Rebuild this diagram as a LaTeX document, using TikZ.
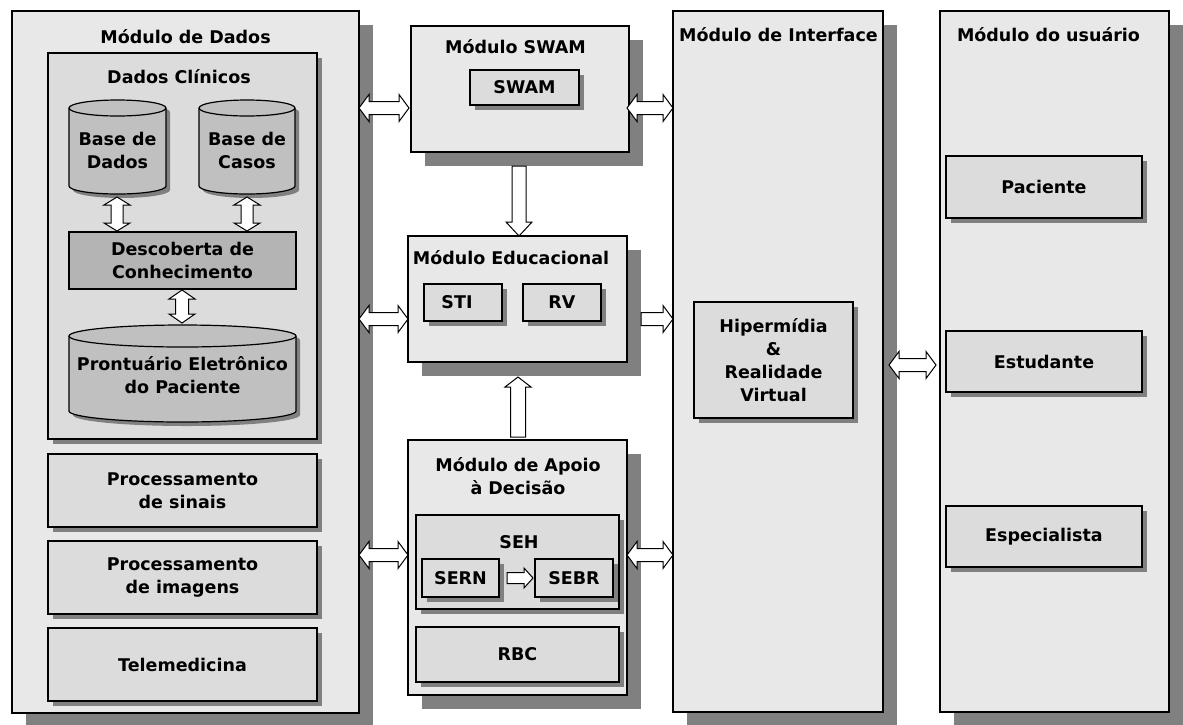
\documentclass[tikz,border=0pt]{standalone}
\usepackage{fontspec}
\setmainfont{DejaVu Sans}
\usetikzlibrary{calc,shadows}
\definecolor{outerfill}{HTML}{E8E8E8}
\definecolor{innerfill}{HTML}{DCDCDC}
\definecolor{cylfill}{HTML}{C0C0C0}
\definecolor{darkfill}{HTML}{B4B4B4}
\definecolor{shadowgray}{HTML}{808080}

\newcommand\drawcyl[3]{%
 \fill[shadowgray] ([xshift=4pt,yshift=-4pt-#3]#1.north west) -- ([xshift=4pt,yshift=-4pt+#3]#1.south west)
   arc[start angle=180,end angle=360,x radius=#2,y radius=#3]
   -- ([xshift=4pt,yshift=-4pt-#3]#1.north east)
   arc[start angle=0,end angle=180,x radius=#2,y radius=#3] -- cycle;
 \draw[cylline] ([yshift=-#3]#1.north west) -- ([yshift=#3]#1.south west)
   arc[start angle=180,end angle=360,x radius=#2,y radius=#3]
   -- ([yshift=-#3]#1.north east)
   arc[start angle=0,end angle=180,x radius=#2,y radius=#3] -- cycle;
 \draw[line width=1.2pt] ([yshift=-#3]#1.north west) arc[start angle=180,end angle=360,x radius=#2,y radius=#3];
}

\tikzset{
  every node/.style={font=\fontsize{17.5}{23}\selectfont\bfseries, text=black},
  outerbox/.style={draw=black, line width=1.2pt, fill=outerfill, inner sep=0pt, outer sep=0pt,
     drop shadow={shadow xshift=14pt, shadow yshift=-14pt, fill=shadowgray, opacity=1}},
  innerbox/.style={draw=black, line width=1.2pt, fill=innerfill, inner sep=0pt, outer sep=0pt, align=center,
     drop shadow={shadow xshift=5pt, shadow yshift=-5pt, fill=shadowgray, opacity=1}},
  darkbox/.style={draw=black, line width=1.2pt, fill=darkfill, inner sep=0pt, outer sep=0pt, align=center},
  cylnode/.style={inner sep=0pt, outer sep=0pt},
  cylline/.style={draw=black, line width=1.2pt, fill=cylfill},
  cyltext/.style={inner sep=0pt, align=center},
  title/.style={anchor=base, inner sep=0pt},
  adim/.code n args={3}{\def\aS{#1}\def\aH{#2}\def\aL{#3}},
  adim={6.5pt}{13.5pt}{10pt},
  blockarrow/.style={draw=black, fill=white, line width=1pt, line join=miter},
  sarrow/.style={blockarrow, to path={let \p1=(\tikztostart), \p2=(\tikztotarget),
     \n1={atan2(\y2-\y1,\x2-\x1)} in
     ($(\p1)+(\n1+90:\aS)$) -- ($(\p2)+(\n1+180:\aL)+(\n1+90:\aS)$)
     -- ($(\p2)+(\n1+180:\aL)+(\n1+90:\aH)$) -- (\p2)
     -- ($(\p2)+(\n1+180:\aL)+(\n1-90:\aH)$) -- ($(\p2)+(\n1+180:\aL)+(\n1-90:\aS)$)
     -- ($(\p1)+(\n1-90:\aS)$) -- cycle}},
  darrow/.style={blockarrow, to path={let \p1=(\tikztostart), \p2=(\tikztotarget),
     \n1={atan2(\y2-\y1,\x2-\x1)} in
     (\p1) -- ($(\p1)+(\n1:\aL)+(\n1+90:\aH)$) -- ($(\p1)+(\n1:\aL)+(\n1+90:\aS)$)
     -- ($(\p2)+(\n1+180:\aL)+(\n1+90:\aS)$) -- ($(\p2)+(\n1+180:\aL)+(\n1+90:\aH)$)
     -- (\p2) -- ($(\p2)+(\n1+180:\aL)+(\n1-90:\aH)$) -- ($(\p2)+(\n1+180:\aL)+(\n1-90:\aS)$)
     -- ($(\p1)+(\n1:\aL)+(\n1-90:\aS)$) -- ($(\p1)+(\n1:\aL)+(\n1-90:\aH)$) -- cycle}},
}

\begin{document}
\begin{tikzpicture}[x=1pt,y=-1pt]
\fill[white] (0,0) rectangle (1183,724);
\useasboundingbox (0,0) rectangle (1183,724);

% ---------- outer modules
\node[outerbox, minimum width=347pt, minimum height=702pt] (dados) at (185.5,362) {};
\node[outerbox, minimum width=218pt, minimum height=126pt] (swamm) at (520,89) {};
\node[outerbox, minimum width=219pt, minimum height=126pt] (educ) at (517.5,299) {};
\node[outerbox, minimum width=219pt, minimum height=255pt] (apoio) at (517.5,567.5) {};
\node[outerbox, minimum width=210pt, minimum height=701pt] (interf) at (778,361.5) {};
\node[outerbox, minimum width=229pt, minimum height=701pt] (usr) at (1054.5,361.5) {};

% ---------- titles
\node[title] (tdados) at (185.5,43) {Módulo de Dados};
\node[title] (tswam) at (515.5,53) {Módulo SWAM};
\node[title] (teduc) at (511,264) {Módulo Educacional};
\node[inner sep=0pt, align=center] (tapoio) at (518,476) {Módulo de Apoio\\à Decisão};
\node[title] (tinterf) at (778.5,41) {Módulo de Interface};
\node[title] (tusr) at (1048.5,41) {Módulo do usuário};

% ---------- Módulo de Dados content
\node[innerbox, minimum width=269pt, minimum height=386pt] (clin) at (182.5,246) {};
\node[title] (tclin) at (179,83) {Dados Clínicos};

\node[cylnode, minimum width=97pt, minimum height=94pt] (bd) at (117.5,147) {};
\node[cylnode, minimum width=96pt, minimum height=94pt] (bc) at (247,147) {};
\node[cylnode, minimum width=227pt, minimum height=97pt] (pep) at (182.5,373.5) {};
\drawcyl{bd}{48.5pt}{8pt}
\drawcyl{bc}{48pt}{8pt}
\drawcyl{pep}{113.5pt}{11pt}
\node[cyltext] (bdtext) at (117.5,150) {Base de\\Dados};
\node[cyltext] (bctext) at (247,150) {Base de\\Casos};
\node[cyltext] (peptext) at (182.5,375) {Prontuário Eletrônico\\do Paciente};

\node[darkbox, minimum width=227pt, minimum height=57pt] (desc) at (182.5,260.5) {Descoberta de\\Conhecimento};

\node[innerbox, minimum width=269pt, minimum height=73pt] (psin) at (182.5,490.5) {Processamento\\de sinais};
\node[innerbox, minimum width=269pt, minimum height=73pt] (pimg) at (182.5,577.5) {Processamento\\de imagens};
\node[innerbox, minimum width=269pt, minimum height=73pt] (tele) at (182.5,664.5) {Telemedicina};

% ---------- middle column content
\node[innerbox, minimum width=109pt, minimum height=35pt] (swam) at (524.5,87.5) {SWAM};
\node[innerbox, minimum width=78pt, minimum height=37pt] (sti) at (463,302.5) {STI\hspace*{12pt}};
\node[innerbox, minimum width=78pt, minimum height=37pt] (rv) at (562,302.5) {RV};

\node[innerbox, minimum width=203pt, minimum height=94pt] (seh) at (517.5,562) {};
\node[title] (tseh) at (519,548) {SEH};
\node[innerbox, minimum width=77pt, minimum height=38pt] (sern) at (460.5,578) {SERN};
\node[innerbox, minimum width=78pt, minimum height=38pt] (sebr) at (574,578) {SEBR};
\node[innerbox, minimum width=203pt, minimum height=55pt] (rbc) at (517.5,654.5) {RBC};

% ---------- interface & user
\node[innerbox, minimum width=159pt, minimum height=116pt] (hiper) at (773.5,360) {Hipermídia\\\&\\Realidade\\Virtual};
\node[innerbox, minimum width=196pt, minimum height=62pt] (pac) at (1044,187) {Paciente};
\node[innerbox, minimum width=196pt, minimum height=61pt] (est) at (1044,361.5) {Estudante};
\node[innerbox, minimum width=196pt, minimum height=61pt] (esp) at (1044,536.5) {Especialista};

% ---------- arrow rows / columns
\coordinate (r1) at (0,108);
\coordinate (r2) at (0,319);
\coordinate (r3) at (0,555);
\coordinate (r4) at (0,365);
\coordinate (c1) at (519,0);
\coordinate (c2) at (518,0);
\coordinate (c3) at (117,0);
\coordinate (c4) at (247,0);
\coordinate (c5) at (182,0);

% horizontal connectors
\draw[darrow] (dados.east |- r1) to ($(swamm.west |- r1)+(-2pt,0pt)$);
\draw[darrow] ($(swamm.east |- r1)+(-2pt,0pt)$) to (interf.west |- r1);
\draw[darrow] (dados.east |- r2) to (educ.west |- r2);
\draw[sarrow] ($(educ.east |- r2)+(14pt,0pt)$) to (interf.west |- r2);
\draw[darrow] (dados.east |- r3) to (apoio.west |- r3);
\draw[darrow] (apoio.east |- r3) to (interf.west |- r3);
\draw[darrow] ($(interf.east |- r4)+(6pt,0pt)$) to ($(usr.west |- r4)+(-4pt,0pt)$);

% vertical connectors
\draw[sarrow, adim={7pt}{13pt}{14pt}] ($(c1 |- swamm.south)+(0pt,-14pt)$) to (c1 |- educ.north);
\draw[sarrow, adim={7.5pt}{13pt}{10pt}] ($(c2 |- apoio.north)+(0pt,3pt)$) to ($(c2 |- educ.south)+(0pt,-15pt)$);
\draw[darrow, adim={6pt}{13pt}{8pt}] ($(c3 |- bd.south)+(0pt,-3pt)$) to ($(c3 |- desc.north)+(0pt,1pt)$);
\draw[darrow, adim={6pt}{13pt}{8pt}] ($(c4 |- bc.south)+(0pt,-3pt)$) to ($(c4 |- desc.north)+(0pt,1pt)$);
\draw[darrow, adim={6.5pt}{13pt}{9pt}] ($(c5 |- desc.south)+(0pt,-1pt)$) to ($(c5 |- pep.north)+(0pt,2pt)$);
\draw[sarrow, adim={5.5pt}{10pt}{9pt}] ($(sern.east)+(8pt,0pt)$) to ($(sebr.west)+(-2pt,0pt)$);
\end{tikzpicture}
\end{document}
